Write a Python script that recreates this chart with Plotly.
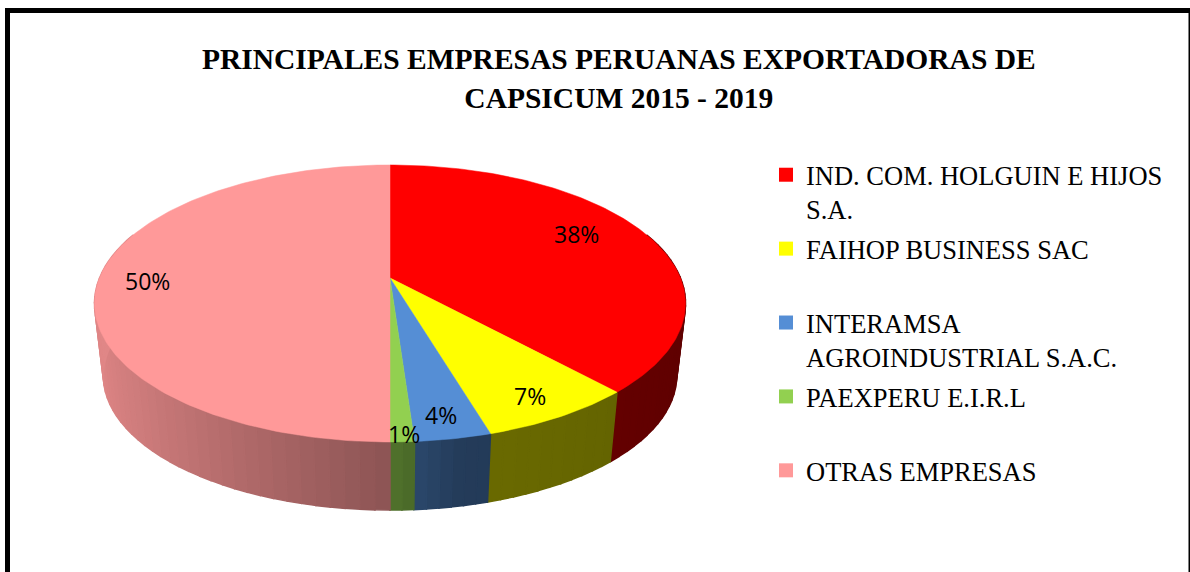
"""3D-style pie of Peruvian capsicum exporters, projected by hand onto a cartesian plot."""

import math

import plotly.graph_objects as go

# Data
COMPANIES = [
    "IND. COM. HOLGUIN E HIJOS<br>S.A.",
    "FAIHOP BUSINESS SAC<br> ",
    "INTERAMSA<br>AGROINDUSTRIAL S.A.C.",
    "PAEXPERU E.I.R.L<br> ",
    "OTRAS EMPRESAS<br> ",
]
SHARES = [38.2, 7.2, 3.5, 1.1, 50.0]
COLORS = ["#FF0000", "#FFFF00", "#558ED5", "#92D050", "#FF9999"]

TITLE = "<b>PRINCIPALES EMPRESAS PERUANAS EXPORTADORAS DE<br>CAPSICUM 2015 - 2019</b>"

# Pixel offsets of the data labels from their default spot on each slice
LABEL_SHIFTS = [(-7, 9), (18, -19), (6, -23), (5, -40), (-25, -3)]

# Pie projection (the axes below run in page pixels)
CX = 390
CY_TOP = 278
CY_BOTTOM = 351
RX = 290.5
RY = 133.8
PERSPECTIVE = 0.184
BOTTOM_SCALE = 0.97


def project(angle_deg, radius=1.0, cy=CY_TOP, scale=1.0):
    """Angle clockwise from 12 o'clock to screen position, with perspective."""
    a = math.radians(angle_deg)
    u = radius * math.sin(a)
    v = -radius * math.cos(a)
    w = 1 - PERSPECTIVE * v
    return CX + scale * RX * u / w, cy + scale * RY * v / w


def shade(hex_color, angle_deg):
    """Darken a colour for the side wall: light on the left, darkest on the right."""
    u = math.sin(math.radians(angle_deg))
    if u < 0:
        factor = 0.55 - 0.33 * u
    elif u < 0.2:
        factor = 0.55 - 0.65 * u
    else:
        factor = 0.42 - 0.06 * (u - 0.2)
    rgb = [int(hex_color[i:i + 2], 16) for i in (1, 3, 5)]
    return "rgb({},{},{})".format(*[round(c * factor) for c in rgb])


fig = go.Figure()

# Slice boundaries in degrees
edges = [0]
for share in SHARES:
    edges.append(edges[-1] + share * 3.6)

# Side wall: short strips, skipping the back that the top face hides
STEP = 2.5
for start, end, color in zip(edges[:-1], edges[1:], COLORS):
    lo = max(start, 70)
    hi = min(end, 290)
    if hi <= lo:
        continue
    n = max(1, math.ceil((hi - lo) / STEP))
    for i in range(n):
        a0 = lo + (hi - lo) * i / n
        a1 = lo + (hi - lo) * (i + 1) / n
        p0 = project(a0)
        p1 = project(a1)
        q1 = project(a1, cy=CY_BOTTOM, scale=BOTTOM_SCALE)
        q0 = project(a0, cy=CY_BOTTOM, scale=BOTTOM_SCALE)
        fill = shade(color, (a0 + a1) / 2)
        fig.add_trace(go.Scatter(
            x=[p0[0], p1[0], q1[0], q0[0], p0[0]],
            y=[p0[1], p1[1], q1[1], q0[1], p0[1]],
            mode="lines",
            fill="toself",
            fillcolor=fill,
            line=dict(color=fill, width=1.5),
            hoverinfo="skip",
            showlegend=False,
        ))

# Top face
for start, end, color in zip(edges[:-1], edges[1:], COLORS):
    n = max(2, math.ceil(end - start))
    rim = [project(start + (end - start) * i / n) for i in range(n + 1)]
    fig.add_trace(go.Scatter(
        x=[CX] + [p[0] for p in rim] + [CX],
        y=[CY_TOP] + [p[1] for p in rim] + [CY_TOP],
        mode="lines",
        fill="toself",
        fillcolor=color,
        line=dict(color=color, width=0.5),
        hoverinfo="skip",
        showlegend=False,
    ))

# Legend entries
for name, color in zip(COMPANIES, COLORS):
    fig.add_trace(go.Scatter(
        x=[None],
        y=[None],
        mode="markers",
        name=name,
        legendgroup=name,
        marker=dict(symbol="square", size=14, color=color),
    ))

# Data labels
for start, end, share, (dx, dy) in zip(edges[:-1], edges[1:], SHARES, LABEL_SHIFTS):
    x, y = project((start + end) / 2, radius=0.75)
    fig.add_annotation(
        x=x, y=y,
        text=f"{share:.0f}%",
        showarrow=False,
        xshift=dx,
        yshift=dy,
        font=dict(family="Open Sans", size=23, color="#000000"),
    )

# Chart frame, runs off the bottom and right of the page
fig.add_shape(
    type="rect",
    x0=7.5, x1=1191, y0=10.5, y1=620,
    line=dict(color="#000000", width=5),
    fillcolor="rgba(0,0,0,0)",
)

fig.update_layout(
    width=1190,
    height=572,
    margin=dict(l=0, r=0, t=0, b=0),
    paper_bgcolor="#FFFFFF",
    plot_bgcolor="#FFFFFF",
    title=dict(
        text=TITLE,
        x=0.52,
        xanchor="center",
        y=0.879,
        yanchor="middle",
        font=dict(family="Liberation Serif", size=29.5, color="#000000"),
    ),
    xaxis=dict(visible=False, range=[0, 1190], fixedrange=True),
    yaxis=dict(visible=False, range=[572, 0], fixedrange=True),
    legend=dict(
        x=766 / 1190,
        y=1 - 151 / 572,
        xanchor="left",
        yanchor="top",
        valign="top",
        font=dict(family="Liberation Serif", size=26.5, color="#000000"),
        tracegroupgap=2,
        itemclick=False,
        itemdoubleclick=False,
        bgcolor="rgba(0,0,0,0)",
    ),
    showlegend=True,
)

# The page's default body margin would push the chart 8px off
fig.write_html(
    "out.html",
    config=dict(displayModeBar=False),
    post_script="document.body.style.margin = '0';",
)
